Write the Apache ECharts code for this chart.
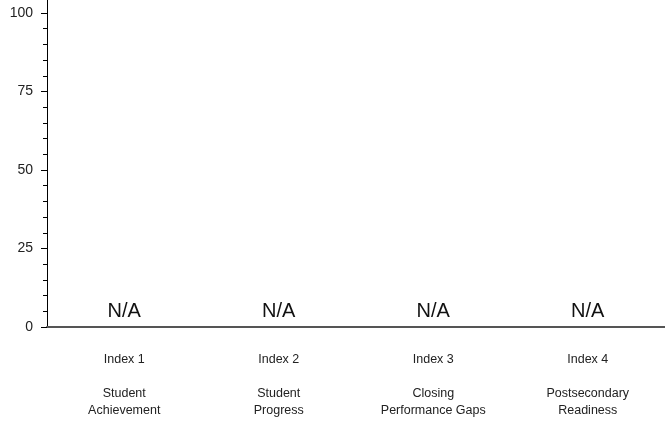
<!DOCTYPE html>
<html>
<head>
<meta charset="utf-8">
<script src="https://cdn.jsdelivr.net/npm/echarts@6/dist/echarts.min.js"></script>
<style>
html,body{margin:0;padding:0;background:#fff;}
#chart{width:665px;height:423px;}
</style>
</head>
<body>
<div id="chart"></div>
<script>
const categories = [
  "Index 1\n\nStudent\nAchievement",
  "Index 2\n\nStudent\nProgress",
  "Index 3\n\nClosing\nPerformance Gaps",
  "Index 4\n\nPostsecondary\nReadiness"
];
const values = [0, 0, 0, 0];
const valueLabels = ["N/A", "N/A", "N/A", "N/A"];
const yTicks = [0, 25, 50, 75, 100];

const chart = echarts.init(document.getElementById('chart'), null, {renderer: 'canvas'});
const font = '"Liberation Sans", Arial, sans-serif';
chart.setOption({
  animation: false,
  grid: {left: 47, right: 0, top: 13, bottom: 96},
  xAxis: {
    type: 'category',
    data: categories,
    axisLine: {show: true, lineStyle: {color: '#555', width: 2}},
    axisTick: {show: false},
    axisLabel: {
      interval: 0, margin: 24, color: '#222', fontSize: 12.5, lineHeight: 17,
      fontFamily: font, align: 'center'
    }
  },
  yAxis: {
    type: 'value',
    min: yTicks[0], max: yTicks[yTicks.length - 1], interval: 25,
    splitLine: {show: false},
    axisLine: {show: true, lineStyle: {color: '#000', width: 1}},
    axisTick: {show: true, length: 6, lineStyle: {color: '#000'}},
    minorTick: {show: true, splitNumber: 5, length: 4, lineStyle: {color: '#000'}},
    axisLabel: {color: '#222', fontSize: 14, fontFamily: font, margin: 14}
  },
  series: [{
    type: 'bar',
    data: values,
    barWidth: '50%',
    itemStyle: {color: '#4a7ebb'},
    label: {
      show: true, position: 'top', distance: 6,
      formatter: p => valueLabels[p.dataIndex],
      color: '#111', fontSize: 20, fontFamily: font
    }
  }]
});
// extend the y axis line above the top tick, to the edge of the page
const topPt = chart.convertToPixel({gridIndex: 0}, [0, yTicks[yTicks.length - 1]]);
chart.setOption({
  graphic: [{
    type: 'line', silent: true,
    shape: {x1: 47.5, y1: 0, x2: 47.5, y2: topPt[1]},
    style: {stroke: '#000', lineWidth: 1}
  }]
});
</script>
</body>
</html>
